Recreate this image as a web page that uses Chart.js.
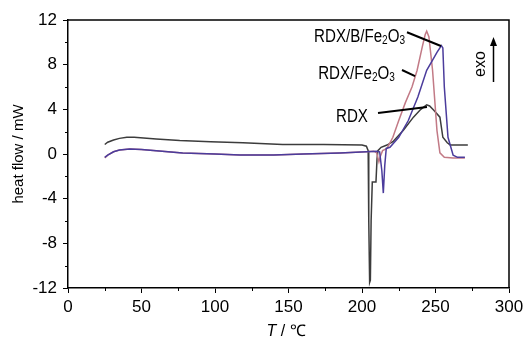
<!DOCTYPE html>
<html>
<head>
<meta charset="utf-8">
<script src="https://cdn.jsdelivr.net/npm/chart.js@4.4.1/dist/chart.umd.min.js"></script>
<style>
html,body{margin:0;padding:0;background:#fff;}
#wrap{width:530px;height:341px;position:relative;}
</style>
</head>
<body>
<div id="wrap"><canvas id="c" width="530" height="341"></canvas></div>
<script>
// ---- data ----
const xTicks = [0, 50, 100, 150, 200, 250, 300];
const yTicks = [-12, -8, -4, 0, 4, 8, 12];

// RDX (dark grey)
const rdxT = [25, 27, 31, 35, 40, 45, 60, 76, 97, 119, 146, 174, 200, 203, 204.2, 204.6, 205.2, 205.7, 206.2, 207, 209.5, 210.2, 210.8, 213, 217, 221, 228, 235, 240, 244, 246, 249, 253, 255, 258, 260, 265, 272];
const rdxV = [0.85, 1.05, 1.25, 1.4, 1.5, 1.5, 1.35, 1.2, 1.1, 1.0, 0.85, 0.85, 0.8, 0.7, 0.3, -6, -11.5, -11.3, -6, -2.5, -2.5, -0.5, 0.3, 0.6, 0.8, 1.1, 2.1, 3.3, 4.0, 4.4, 4.3, 3.9, 3.3, 1.5, 1.0, 0.8, 0.8, 0.8];

// RDX/Fe2O3 (rose)
const feT = [25, 27, 31, 35, 42, 50, 60, 78, 100, 117, 140, 160, 185, 203, 208, 210, 211.5, 212.5, 214, 217, 221, 225, 229.5, 234, 237.5, 241, 243, 244, 245.5, 248, 251, 253, 256, 262, 270];
const feV = [-0.35, -0.1, 0.2, 0.35, 0.45, 0.4, 0.3, 0.1, 0.0, -0.1, -0.1, 0.0, 0.1, 0.2, 0.25, 0.1, -0.7, -0.2, 0.3, 0.5, 1.5, 3.0, 4.6, 6.0, 7.5, 9.6, 10.7, 11.0, 10.5, 7.5, 2.1, 0.1, -0.3, -0.35, -0.35];

// RDX/B/Fe2O3 (blue-violet)
const bfeT = [25, 27, 31, 35, 42, 50, 60, 78, 100, 117, 140, 160, 185, 203, 210, 212, 213.5, 214.5, 215.5, 216.5, 219, 225, 231.5, 238, 244, 248, 251, 254, 255, 256, 258.5, 262, 265, 270];
const bfeV = [-0.3, -0.1, 0.2, 0.35, 0.45, 0.4, 0.3, 0.1, 0.0, -0.1, -0.1, 0.0, 0.1, 0.2, 0.25, 0.2, -1.5, -3.5, -1.0, 0.5, 0.6, 1.5, 3.0, 5.1, 7.5, 8.4, 9.1, 9.7, 9.5, 6.0, 1.5, -0.1, -0.3, -0.3];

const minorX = [25, 75, 125, 175, 225, 275];
const minorY = [-10, -6, -2, 2, 6, 10];

// annotation labels: [text parts, end x (data), centre y (data), pointer from, pointer to]
const labels = [
  {parts: [['RDX/B/Fe', 0], ['2', 1], ['O', 0], ['3', 1]], x: 229.3, y: 10.65, from: [230.6, 10.9], to: [253.7, 9.67]},
  {parts: [['RDX/Fe', 0], ['2', 1], ['O', 0], ['3', 1]], x: 222.4, y: 7.34, from: [227.2, 7.52], to: [236.1, 6.98]},
  {parts: [['RDX', 0]], x: 204, y: 3.49, from: [210.9, 3.67], to: [244.2, 4.2]}
];

const pts = (t, v) => t.map((x, i) => ({x: x, y: v[i]}));

const FONT = '"Liberation Sans", Arial, sans-serif';

const decor = {
  id: 'decor',
  afterDraw(chart) {
    const ctx = chart.ctx;
    const a = chart.chartArea;
    const xs = chart.scales.x, ys = chart.scales.y;
    ctx.save();
    // frame (top & right)
    ctx.strokeStyle = '#000';
    ctx.lineWidth = 1.5;
    ctx.beginPath();
    ctx.moveTo(a.left, a.top); ctx.lineTo(a.right, a.top); ctx.lineTo(a.right, a.bottom);
    ctx.stroke();
    // minor ticks
    ctx.lineWidth = 1;
    ctx.beginPath();
    minorX.forEach(v => { const px = Math.round(xs.getPixelForValue(v)) + 0.5; ctx.moveTo(px, a.bottom); ctx.lineTo(px, a.bottom + 3); });
    minorY.forEach(v => { const py = Math.round(ys.getPixelForValue(v)) + 0.5; ctx.moveTo(a.left, py); ctx.lineTo(a.left - 3, py); });
    ctx.stroke();

    // annotation labels
    const sx = 0.84;
    labels.forEach(L => {
      const ex = xs.getPixelForValue(L.x), cy = ys.getPixelForValue(L.y);
      let w = 0;
      L.parts.forEach(p => { ctx.font = (p[1] ? '12px ' : '18px ') + FONT; w += ctx.measureText(p[0]).width; });
      ctx.save();
      ctx.translate(ex - w * sx, cy);
      ctx.scale(sx, 1);
      ctx.fillStyle = '#000';
      ctx.textBaseline = 'alphabetic';
      let cx = 0;
      L.parts.forEach(p => {
        ctx.font = (p[1] ? '12px ' : '18px ') + FONT;
        ctx.fillText(p[0], cx, p[1] ? 9 : 6.5);
        cx += ctx.measureText(p[0]).width;
      });
      ctx.restore();
      ctx.strokeStyle = '#000';
      ctx.lineWidth = 2;
      ctx.beginPath();
      ctx.moveTo(xs.getPixelForValue(L.from[0]), ys.getPixelForValue(L.from[1]));
      ctx.lineTo(xs.getPixelForValue(L.to[0]), ys.getPixelForValue(L.to[1]));
      ctx.stroke();
    });

    // exo arrow
    const axp = Math.round(xs.getPixelForValue(289)) + 0.5;
    const y0 = ys.getPixelForValue(6.45), y1 = ys.getPixelForValue(10.47);
    ctx.lineWidth = 1.5;
    ctx.beginPath(); ctx.moveTo(axp, y0); ctx.lineTo(axp, y1 + 6); ctx.stroke();
    ctx.fillStyle = '#000';
    ctx.beginPath(); ctx.moveTo(axp, y1); ctx.lineTo(axp - 3.5, y1 + 9); ctx.lineTo(axp + 3.5, y1 + 9); ctx.closePath(); ctx.fill();
    ctx.save();
    ctx.translate(481, 64);
    ctx.rotate(-Math.PI / 2);
    ctx.font = '16px ' + FONT;
    ctx.textAlign = 'center'; ctx.textBaseline = 'middle';
    ctx.fillText('exo', 0, 0);
    ctx.restore();

    // axis titles
    ctx.save();
    ctx.translate(19, 154);
    ctx.rotate(-Math.PI / 2);
    ctx.font = '15px ' + FONT;
    ctx.textAlign = 'center'; ctx.textBaseline = 'middle';
    ctx.fillText('heat flow / mW', 0, 0);
    ctx.restore();

    ctx.textBaseline = 'middle'; ctx.textAlign = 'left';
    ctx.font = 'italic 16px ' + FONT;
    const tW = ctx.measureText('T').width;
    ctx.font = '16px ' + FONT;
    const rest = ' / \u2103';
    const rW = ctx.measureText(rest).width;
    const startX = 286 - (tW + rW) / 2;
    ctx.font = 'italic 16px ' + FONT;
    ctx.fillText('T', startX, 332);
    ctx.font = '16px ' + FONT;
    ctx.fillText(rest, startX + tW, 332);
    ctx.restore();
  }
};

const ds = (label, t, v, color) => ({
  label: label, data: pts(t, v), borderColor: color, borderWidth: 1.5,
  pointRadius: 0, showLine: true, tension: 0, fill: false
});

new Chart(document.getElementById('c'), {
  type: 'scatter',
  data: {
    datasets: [
      ds('RDX/B/Fe2O3', bfeT, bfeV, '#4b3c9c'),
      ds('RDX/Fe2O3', feT, feV, '#c27a86'),
      ds('RDX', rdxT, rdxV, '#3c3c3c')
    ]
  },
  options: {
    responsive: false,
    animation: false,
    events: [],
    layout: {padding: {left: 0, top: 20, right: 21, bottom: 0}},
    plugins: {legend: {display: false}, tooltip: {enabled: false}},
    scales: {
      x: {
        type: 'linear', min: 0, max: 300,
        afterBuildTicks: s => { s.ticks = xTicks.map(v => ({value: v})); },
        afterFit: s => { s.height = 53; },
        grid: {drawOnChartArea: false, drawTicks: true, tickLength: 5, color: '#000', tickColor: '#000', tickWidth: 1},
        border: {display: true, color: '#000', width: 1.5},
        ticks: {color: '#000', font: {family: FONT, size: 17}, padding: 4, maxRotation: 0}
      },
      y: {
        type: 'linear', min: -12, max: 12,
        afterBuildTicks: s => { s.ticks = yTicks.map(v => ({value: v})); },
        afterFit: s => { s.width = 68; },
        grid: {drawOnChartArea: false, drawTicks: true, tickLength: 5, color: '#000', tickColor: '#000', tickWidth: 1},
        border: {display: true, color: '#000', width: 1.5},
        ticks: {color: '#000', font: {family: FONT, size: 17}, padding: 6}
      }
    }
  },
  plugins: [decor]
});
</script>
</body>
</html>
